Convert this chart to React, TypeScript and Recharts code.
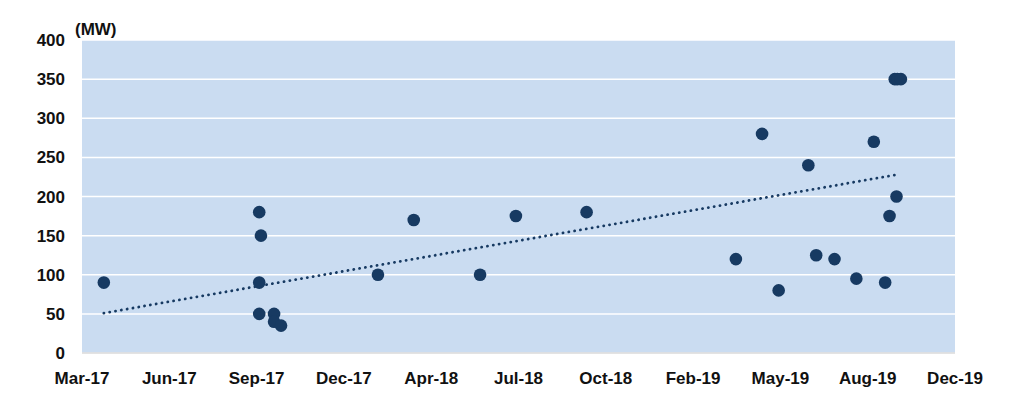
import React from 'react';
import { ScatterChart, Scatter, XAxis, YAxis, CartesianGrid } from 'recharts';

const pointDates = [
  '2017-03-31', '2017-09-25', '2017-09-27', '2017-09-25', '2017-09-25', '2017-10-12', '2017-10-12', '2017-10-20',
  '2018-02-08', '2018-03-21', '2018-06-05', '2018-07-16', '2018-10-05',
  '2019-03-25', '2019-04-24', '2019-05-13', '2019-06-16', '2019-06-25', '2019-07-16', '2019-08-10', '2019-08-30',
  '2019-09-12', '2019-09-17', '2019-09-25', '2019-09-23', '2019-09-26', '2019-09-30',
];
const pointValues = [
  90, 180, 150, 90, 50, 50, 40, 35,
  100, 170, 100, 175, 180,
  120, 280, 80, 240, 125, 120, 95, 270,
  90, 175, 200, 350, 350, 350,
];
const trendDates = ['2017-03-31', '2019-09-26'];
const trendValues = [51, 228];

const axisStart = '2017-03-06';
const tickStepDays = 100;
const xTickLabels = ['Mar-17', 'Jun-17', 'Sep-17', 'Dec-17', 'Apr-18', 'Jul-18', 'Oct-18', 'Feb-19', 'May-19', 'Aug-19', 'Dec-19'];
const yTicks = [0, 50, 100, 150, 200, 250, 300, 350, 400];

const DAY = 86400000;
const toT = (s: string) => {
  const [y, m, d] = s.split('-').map(Number);
  return Date.UTC(y, m - 1, d);
};
const startT = toT(axisStart);
const xTicks = xTickLabels.map((_, i) => startT + i * tickStepDays * DAY);
const endT = xTicks[xTicks.length - 1];

const points = pointDates.map((d, i) => ({ t: toT(d), v: pointValues[i] }));
const trend = trendDates.map((d, i) => ({ t: toT(d), v: trendValues[i] }));

const NAVY = '#173a62';
const FONT = '"Liberation Sans", Arial, sans-serif';

const XTick = (props: any) => {
  const { x, y, payload } = props;
  const idx = xTicks.indexOf(payload.value);
  return (
    <text x={x} y={y} dy={23} textAnchor="middle" fontFamily={FONT} fontWeight="bold" fontSize={17} fill="#111">
      {idx >= 0 ? xTickLabels[idx] : ''}
    </text>
  );
};

const YTick = (props: any) => {
  const { y, payload } = props;
  return (
    <text x={65} y={y} dy={6} textAnchor="end" fontFamily={FONT} fontWeight="bold" fontSize={17} fill="#111">
      {payload.value}
    </text>
  );
};

export default function App() {
  return (
    <div style={{ position: 'relative', margin: -8, width: 1024, height: 396, background: '#fff' }}>
      <div
        style={{
          position: 'absolute', left: 1, top: 1, width: 1021, height: 393,
          border: '1px solid #d9d9d9', boxSizing: 'border-box',
        }}
      />
      <div style={{ position: 'absolute', left: 0, top: 0 }}>
        <ScatterChart width={1024} height={396} margin={{ top: 40, right: 69, bottom: 13, left: 0 }}>
          <CartesianGrid horizontal vertical={false} stroke="#ffffff" strokeWidth={1.5} fill="#cadcf1" fillOpacity={1} />
          <XAxis
            type="number"
            dataKey="t"
            domain={[startT, endT]}
            ticks={xTicks}
            interval={0}
            height={30}
            tickLine={false}
            axisLine={{ stroke: '#c8c8c8', strokeWidth: 1 }}
            tick={<XTick />}
            allowDataOverflow
          />
          <YAxis
            type="number"
            dataKey="v"
            domain={[0, 400]}
            ticks={yTicks}
            interval={0}
            width={82}
            tickLine={false}
            axisLine={false}
            tick={<YTick />}
          />
          <Scatter
            data={trend}
            isAnimationActive={false}
            line={{ stroke: NAVY, strokeWidth: 2.8, strokeDasharray: '0.1 5.8', strokeLinecap: 'round' } as any}
            shape={() => <g />}
          />
          <Scatter
            data={points}
            isAnimationActive={false}
            shape={(p: any) => <circle cx={p.cx} cy={p.cy} r={6.3} fill={NAVY} />}
          />
          <text x={75} y={35} fontFamily={FONT} fontWeight="bold" fontSize={17} fill="#111">(MW)</text>
        </ScatterChart>
      </div>
    </div>
  );
}
